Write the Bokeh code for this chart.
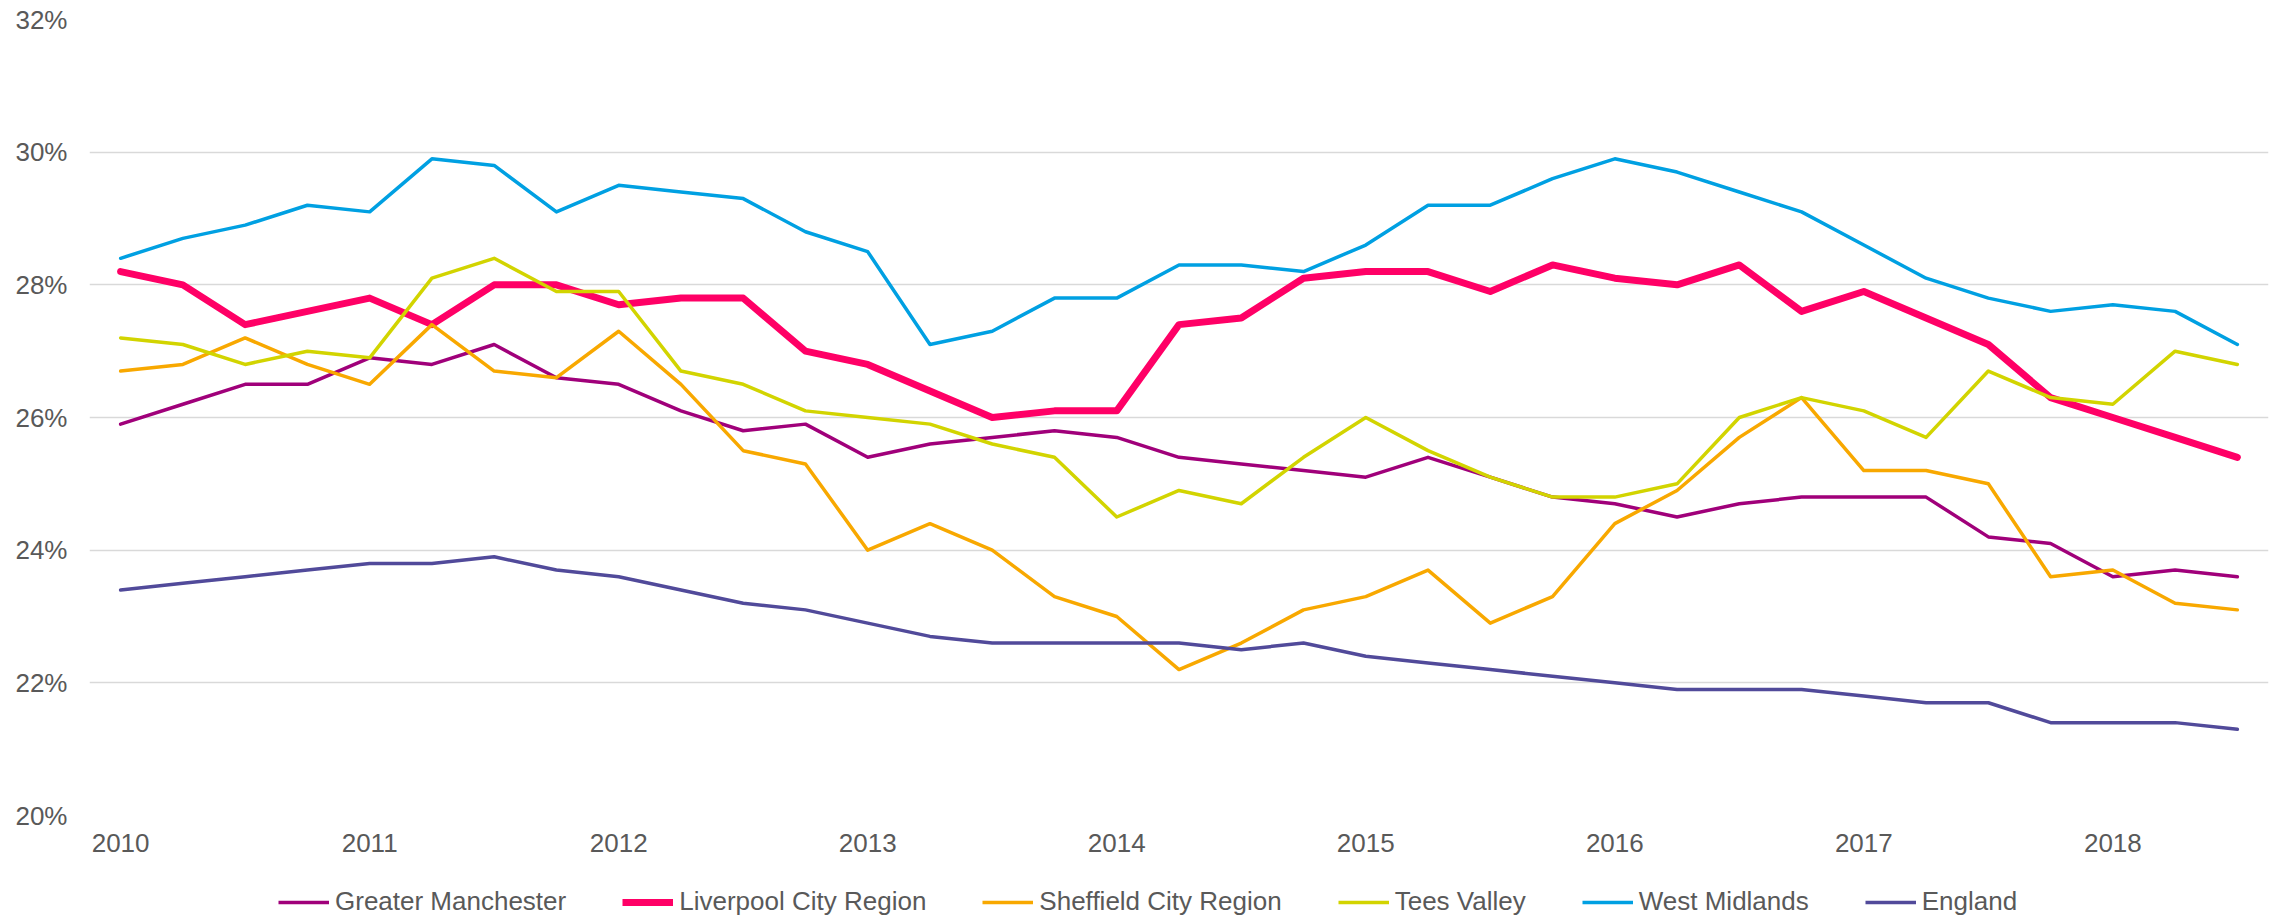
from bokeh.plotting import figure
from bokeh.layouts import column
from bokeh.models import Range1d, FixedTicker, PrintfTickFormatter, Legend, LegendItem
from bokeh.embed import file_html
from bokeh.resources import INLINE

# quarterly observations, 2010 Q1 .. 2018 Q3
start_year = 2010
n_quarters = 35
years = [start_year + 0.25 * i for i in range(n_quarters)]
year_ticks = [2010, 2011, 2012, 2013, 2014, 2015, 2016, 2017, 2018]

greater_manchester = [25.9, 26.2, 26.5, 26.5, 26.9, 26.8, 27.1, 26.6, 26.5, 26.1,
                      25.8, 25.9, 25.4, 25.6, 25.7, 25.8, 25.7, 25.4, 25.3, 25.2,
                      25.1, 25.4, 25.1, 24.8, 24.7, 24.5, 24.7, 24.8, 24.8, 24.8,
                      24.2, 24.1, 23.6, 23.7, 23.6]
liverpool = [28.2, 28.0, 27.4, 27.6, 27.8, 27.4, 28.0, 28.0, 27.7, 27.8,
             27.8, 27.0, 26.8, 26.4, 26.0, 26.1, 26.1, 27.4, 27.5, 28.1,
             28.2, 28.2, 27.9, 28.3, 28.1, 28.0, 28.3, 27.6, 27.9, 27.5,
             27.1, 26.3, 26.0, 25.7, 25.4]
sheffield = [26.7, 26.8, 27.2, 26.8, 26.5, 27.4, 26.7, 26.6, 27.3, 26.5,
             25.5, 25.3, 24.0, 24.4, 24.0, 23.3, 23.0, 22.2, 22.6, 23.1,
             23.3, 23.7, 22.9, 23.3, 24.4, 24.9, 25.7, 26.3, 25.2, 25.2,
             25.0, 23.6, 23.7, 23.2, 23.1]
tees_valley = [27.2, 27.1, 26.8, 27.0, 26.9, 28.1, 28.4, 27.9, 27.9, 26.7,
               26.5, 26.1, 26.0, 25.9, 25.6, 25.4, 24.5, 24.9, 24.7, 25.4,
               26.0, 25.5, 25.1, 24.8, 24.8, 25.0, 26.0, 26.3, 26.1, 25.7,
               26.7, 26.3, 26.2, 27.0, 26.8]
west_midlands = [28.4, 28.7, 28.9, 29.2, 29.1, 29.9, 29.8, 29.1, 29.5, 29.4,
                 29.3, 28.8, 28.5, 27.1, 27.3, 27.8, 27.8, 28.3, 28.3, 28.2,
                 28.6, 29.2, 29.2, 29.6, 29.9, 29.7, 29.4, 29.1, 28.6, 28.1,
                 27.8, 27.6, 27.7, 27.6, 27.1]
england = [23.4, 23.5, 23.6, 23.7, 23.8, 23.8, 23.9, 23.7, 23.6, 23.4,
           23.2, 23.1, 22.9, 22.7, 22.6, 22.6, 22.6, 22.6, 22.5, 22.6,
           22.4, 22.3, 22.2, 22.1, 22.0, 21.9, 21.9, 21.9, 21.8, 21.7,
           21.7, 21.4, 21.4, 21.4, 21.3]

series_names = ["Greater Manchester", "Liverpool City Region", "Sheffield City Region",
                "Tees Valley", "West Midlands", "England"]
series_values = [greater_manchester, liverpool, sheffield, tees_valley, west_midlands, england]
series_colors = ["#A0007A", "#FF0066", "#F8A800", "#D2D400", "#00A0E2", "#514A9A"]
series_widths = [3.5, 7, 3.5, 3.5, 3.5, 3.5]

FONT = "Liberation Sans"
TXT = "#595959"

p = figure(width=2280, height=872, output_backend="svg", toolbar_location=None,
           x_range=Range1d(2009.875, 2018.625), y_range=Range1d(20, 32),
           min_border_left=89, min_border_right=12, min_border_top=19, min_border_bottom=57)
p.outline_line_color = None
p.background_fill_color = "white"

for name, vals, col, w in zip(series_names, series_values, series_colors, series_widths):
    p.line(years, vals, line_color=col, line_width=w, line_join="round", line_cap="round")

p.xaxis.ticker = FixedTicker(ticks=year_ticks)
p.yaxis.ticker = FixedTicker(ticks=[20, 22, 24, 26, 28, 30, 32])
p.yaxis.formatter = PrintfTickFormatter(format="%d%%")
for ax in (p.xaxis, p.yaxis):
    ax.axis_line_color = None
    ax.major_tick_line_color = None
    ax.minor_tick_line_color = None
    ax.major_tick_out = 0
    ax.major_tick_in = 0
    ax.major_label_text_font = FONT
    ax.major_label_text_font_size = "26px"
    ax.major_label_text_color = TXT
p.xaxis.major_label_standoff = 18
p.yaxis.major_label_standoff = 22

p.xgrid.grid_line_color = None
p.ygrid.grid_line_color = "#D9D9D9"
p.ygrid.grid_line_width = 1.5

# legend strip underneath the chart (same series, their lines sit outside this strip's view)
lg = figure(width=2280, height=46, output_backend="svg", toolbar_location=None,
            x_range=Range1d(2009.875, 2018.625), y_range=Range1d(0, 1),
            x_axis_location=None, y_axis_location=None,
            min_border_left=0, min_border_right=0, min_border_top=0, min_border_bottom=0)
lg.grid.visible = False
lg.outline_line_color = None
items = []
for name, vals, col, w in zip(series_names, series_values, series_colors, series_widths):
    r = lg.line(years, vals, line_color=col, line_width=w)
    items.append(LegendItem(label=name, renderers=[r]))
legend = Legend(items=items, orientation="horizontal", location=(189, 1),
                label_text_font=FONT, label_text_font_size="26px", label_text_color=TXT,
                glyph_width=51, glyph_height=26, label_standoff=6, spacing=56,
                padding=0, margin=0, border_line_color=None, background_fill_alpha=0)
lg.add_layout(legend, "center")

page = column(p, lg, spacing=0)
open("out.html", "w").write(file_html(page, INLINE))
